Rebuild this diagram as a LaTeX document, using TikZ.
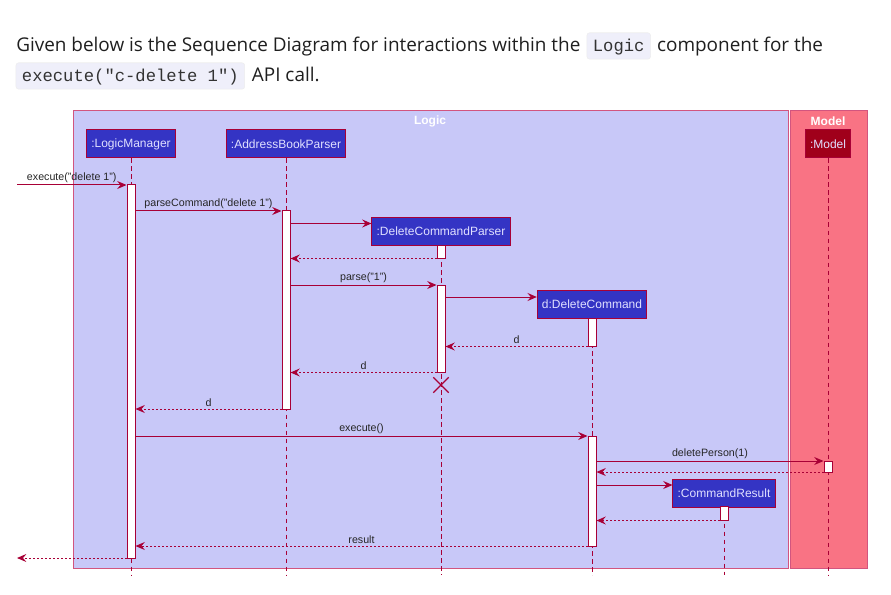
\documentclass[tikz,border=0pt]{standalone}
\usepackage{fontspec}
\setsansfont{Liberation Sans}
\newfontfamily\hdrfont{Open Sans}
\newfontfamily\codefont{Liberation Mono}
\usetikzlibrary{arrows.meta,positioning,shapes.misc}
\definecolor{umlred}{HTML}{A80036}
\definecolor{logicbg}{HTML}{C8C8F8}
\definecolor{modelbg}{HTML}{F97384}
\definecolor{partblue}{HTML}{3434C4}
\definecolor{partred}{HTML}{A0001A}
\definecolor{framebd}{HTML}{D2557F}
\definecolor{codebg}{HTML}{EFEFFA}
\tikzset{participant/.style={rectangle,draw=umlred,fill=partblue,text=white!88!blue,minimum height=21pt,inner xsep=3.5pt,line width=.75pt,font=\sffamily\fontsize{9}{10}\selectfont},act/.style={rectangle,draw=umlred,fill=white,minimum width=6pt,inner sep=0pt,line width=.75pt},lifeline/.style={umlred,dash pattern=on 3.5pt off 2.5pt,line width=.75pt},msg/.style={umlred,line width=.75pt,-{Stealth[length=7pt,width=6pt,inset=2.5pt]}},reply/.style={msg,dash pattern=on 1.5pt off 1.5pt},lbl/.style={text=black!85,font=\sffamily\fontsize{8}{9}\selectfont,inner sep=1.5pt},frametitle/.style={text=white,font=\sffamily\bfseries\fontsize{9}{10}\selectfont},destroy/.style={cross out,draw=umlred,line width=1pt,minimum size=10.5pt,inner sep=0pt},code/.style={fill=codebg,draw=black!7,rounded corners=2pt,text=black!80,inner xsep=4.5pt,inner ysep=0pt,text height=14.2pt,text depth=5.6pt,font=\codefont\fontsize{12.9}{14}\selectfont},prose/.style={text=black!88,inner sep=0pt,font=\hdrfont\fontsize{14.2}{17}\selectfont}}

\begin{document}
\begin{tikzpicture}[x=.75pt,y=-.75pt]
\useasboundingbox (0,0) rectangle (891,595);
% header text
\node[prose,anchor=base west] (t1) at (16,51.7) {Given below is the Sequence Diagram for interactions within the};
\node[code,right=4.5pt of t1.base east,anchor=base west] (c1) {Logic};
\node[prose,right=4.5pt of c1.base east,anchor=base west] (t2) {component for the};
\node[code,anchor=base west] (c2) at (15.7,81.7) {execute("c-delete 1")};
\node[prose,right=5pt of c2.base east,anchor=base west] (t3) {API call.};
% frames
\filldraw[fill=logicbg,draw=framebd,line width=.75pt] (73,111) rectangle (788,568);
\filldraw[fill=modelbg,draw=framebd,line width=.75pt] (790,111) rectangle (867,568);
\node[frametitle] (logicT) at (430,121) {Logic};
\node[frametitle] (modelT) at (828,121) {Model};
% participants
\node[participant] (lm) at (131,144) {:LogicManager};
\node[participant] (abp) at (286,144) {:AddressBookParser};
\node[participant,fill=partred] (model) at (828,144) {:Model};
\node[participant] (dcp) at (441,231.5) {:DeleteCommandParser};
\node[participant] (dc) at (592,304.5) {d:DeleteCommand};
\node[participant] (cr) at (724,493) {:CommandResult};
\foreach \p in {lm,abp,model,dcp,dc,cr}{\draw[lifeline] (\p.south) -- (\p.south |- 0,575);}
% activations
\foreach \n/\x/\ya/\yb in {lmAct/131/185/558,abpAct/286/211/409,dcpActA/441/245/258.5,dcpActB/441/285/372.5,dcActA/592/318/346.5,dcActB/592/436/546,mAct/828/461/472,crAct/724/506.5/520.5}{
\node[act,minimum height={(\yb-\ya)*.75pt}] (\n) at (\x,{(\ya+\yb)/2}) {};
}
% messages
\coordinate (inL) at (17,185);
\coordinate (outL) at (17,558);
\draw[msg] (inL) -- (lmAct.west |- inL) node[lbl,midway,above] {execute("delete 1")};
\draw[msg] (lmAct.east |- 0,211) -- (abpAct.west |- 0,211) node[lbl,midway,above] {parseCommand("delete 1")};
\draw[msg] (abpAct.east |- 0,223.5) -- (dcp.west |- 0,223.5);
\draw[reply] (dcpActA.west |- 0,258.5) -- (abpAct.east |- 0,258.5);
\draw[msg] (abpAct.east |- 0,285) -- (dcpActB.west |- 0,285) node[lbl,midway,above] {parse("1")};
\draw[msg] (dcpActB.east |- 0,297) -- (dc.west |- 0,297);
\draw[reply] (dcActA.west |- 0,346.5) -- (dcpActB.east |- 0,346.5) node[lbl,midway,above] {d};
\draw[reply] (dcpActB.west |- 0,372.5) -- (abpAct.east |- 0,372.5) node[lbl,midway,above] {d};
\node[destroy] (dcpX) at (441,385) {};
\draw[reply] (abpAct.west |- 0,409) -- (lmAct.east |- 0,409) node[lbl,midway,above] {d};
\draw[msg] (lmAct.east |- 0,436) -- (dcActB.west |- 0,436) node[lbl,midway,above] {execute()};
\draw[msg] (dcActB.east |- 0,461) -- (mAct.west |- 0,461) node[lbl,midway,above] {deletePerson(1)};
\draw[reply] (mAct.west |- 0,472) -- (dcActB.east |- 0,472);
\draw[msg] (dcActB.east |- 0,485) -- (cr.west |- 0,485);
\draw[reply] (crAct.west |- 0,520.5) -- (dcActB.east |- 0,520.5);
\draw[reply] (dcActB.west |- 0,546) -- (lmAct.east |- 0,546) node[lbl,midway,above] {result};
\draw[reply] (lmAct.west |- outL) -- (outL);
\end{tikzpicture}
\end{document}
